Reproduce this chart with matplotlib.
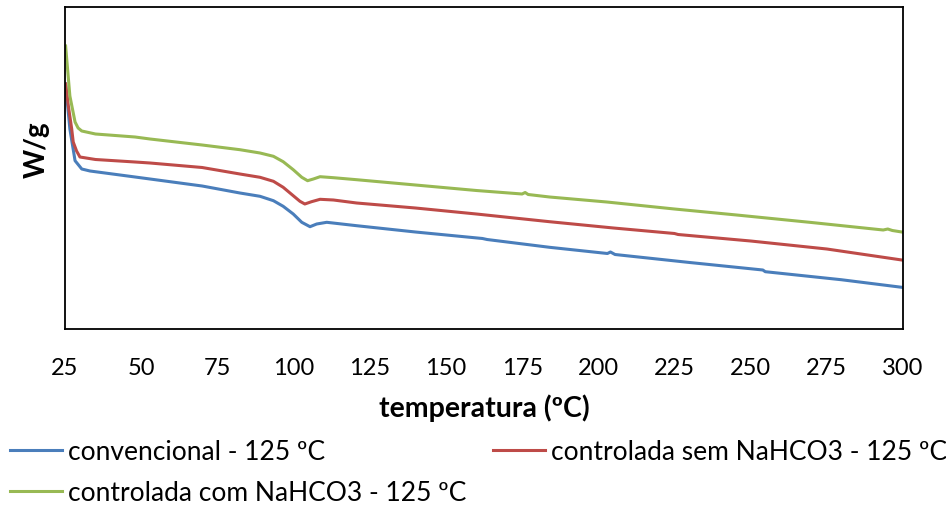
import matplotlib
matplotlib.use('Agg')
import matplotlib.pyplot as plt

# temperatures (ºC) and heat flow (W/g, arbitrary offset)
temp_conv = [25.2, 26.6, 28.3, 30.5, 33.2, 48, 52.9, 70, 82.4, 89, 93.4, 96.6, 99.9, 102.7,
             105.4, 107.6, 110.9, 120.7, 140, 162, 163.5, 184, 203, 204, 205.5, 230, 254, 254.8,
             279.7, 299.6]
wg_conv = [2.45, 2.00, 1.683, 1.60, 1.58, 1.52, 1.50, 1.43, 1.36, 1.327, 1.283, 1.227, 1.15, 1.067,
           1.023, 1.05, 1.067, 1.033, 0.97, 0.905, 0.895, 0.817, 0.755, 0.77, 0.745, 0.665, 0.59,
           0.573, 0.493, 0.417]

temp_sem = [25.2, 26.1, 27.2, 27.7, 28.8, 29.9, 35, 48, 52.9, 70, 82.4, 89, 93.4, 96.6, 99.9,
            102.1, 103.7, 105.9, 108.7, 113.1, 120.7, 140, 160, 184, 205, 225, 226.2, 250, 275,
            299.6]
wg_sem = [2.45, 2.23, 2.00, 1.87, 1.78, 1.72, 1.695, 1.67, 1.66, 1.615, 1.55, 1.517, 1.477, 1.417,
          1.333, 1.277, 1.25, 1.273, 1.297, 1.29, 1.26, 1.21, 1.15, 1.073, 1.01, 0.955, 0.945,
          0.88, 0.80, 0.69]

temp_com = [25.2, 26.6, 28.3, 29.3, 30.5, 35, 48, 52.9, 70, 82.4, 89, 93.4, 96.6, 99.9, 102.7,
            104.6, 106.5, 108.7, 113.1, 120.7, 140, 160, 175, 176, 177, 184, 202.8, 225, 245.4,
            270, 293.5, 295, 296.5, 299.6]
wg_com = [2.83, 2.33, 2.07, 2.01, 1.98, 1.95, 1.92, 1.90, 1.84, 1.793, 1.76, 1.727, 1.673, 1.593,
          1.517, 1.483, 1.50, 1.523, 1.513, 1.493, 1.44, 1.385, 1.35, 1.365, 1.345, 1.32, 1.27,
          1.20, 1.14, 1.065, 0.99, 1.00, 0.985, 0.97]

labels = ['convencional - 125 ºC', 'controlada sem NaHCO3 - 125 ºC', 'controlada com NaHCO3 - 125 ºC']
colors = ['#4A7EBB', '#BE4B48', '#98B954']
xticks = list(range(25, 301, 25))

plt.rcParams['font.family'] = ['Lato', 'DejaVu Sans']

fig = plt.figure(figsize=(9.46, 5.06), dpi=100)
ax = fig.add_axes([65 / 946, 1 - 330 / 506, 838 / 946, 322.5 / 506])

l1, = ax.plot(temp_conv, wg_conv, color=colors[0], lw=2.2, label=labels[0])
l2, = ax.plot(temp_sem, wg_sem, color=colors[1], lw=2.2, label=labels[1])
l3, = ax.plot(temp_com, wg_com, color=colors[2], lw=2.2, label=labels[2])

ax.set_xlim(25, 300)
ax.set_ylim(0, 3.225)
ax.set_xticks(xticks)
ax.set_yticks([])
ax.tick_params(axis='x', length=0, pad=20, labelsize=17)
for s in ax.spines.values():
    s.set_linewidth(1.3)
    s.set_color('black')

ax.set_xlabel('temperatura (ºC)', fontsize=20.5, fontweight='bold', va='center')
ax.xaxis.set_label_coords(0.5, (330 - 408) / 322.5)
ax.set_ylabel('W/g', fontsize=20, fontweight='bold', va='center')
ax.yaxis.set_label_coords((37 - 65) / 838, (330 - 150) / 322.5)

# column-major fill: blue, green in first column, red in second
fig.legend([l1, l3, l2], [labels[0], labels[2], labels[1]], ncol=2, loc='upper left',
           bbox_to_anchor=(10 / 946, 1 - 440 / 506), frameon=False, fontsize=19,
           borderpad=0, borderaxespad=0, handlelength=1.97, handletextpad=0.23,
           columnspacing=1.02, labelspacing=0.6)

fig.savefig('out.png', dpi=100)
